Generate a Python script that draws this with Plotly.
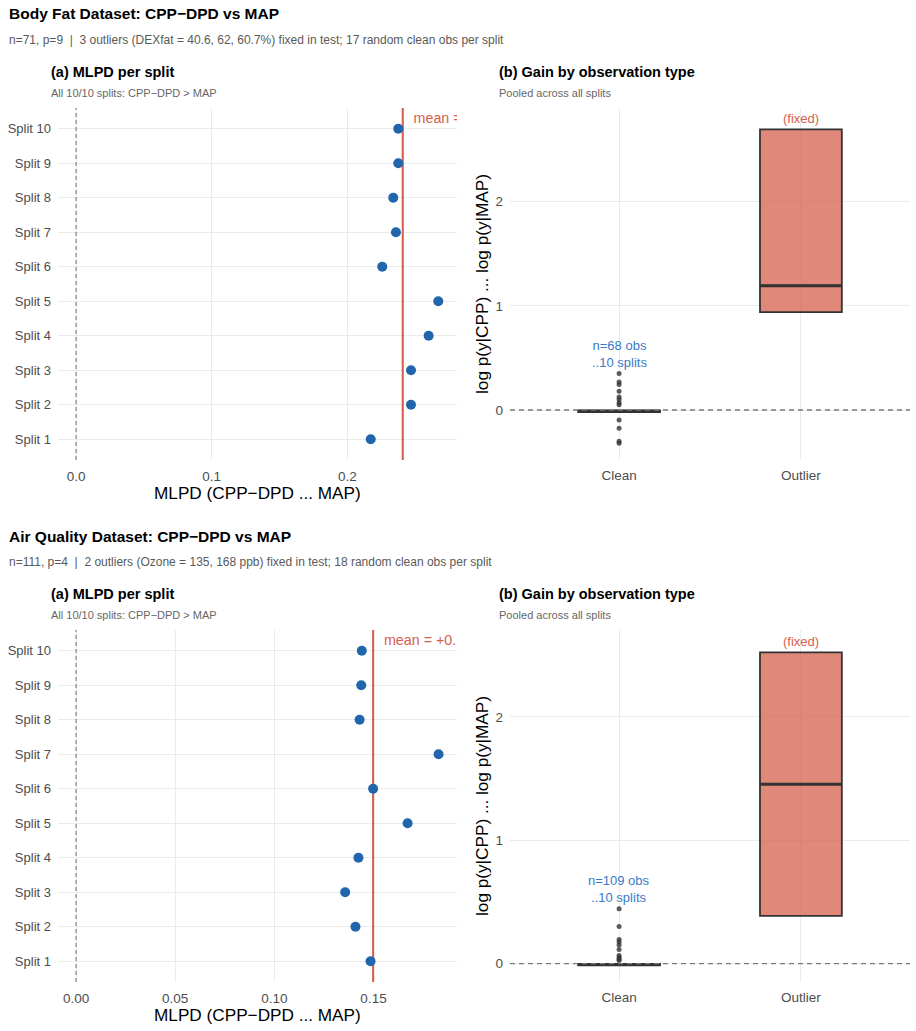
import numpy as np
import plotly.graph_objects as go

# ---------------- data ----------------
splits = ["Split 1", "Split 2", "Split 3", "Split 4", "Split 5",
          "Split 6", "Split 7", "Split 8", "Split 9", "Split 10"]

bf_mlpd = [0.2172, 0.2469, 0.2469, 0.2599, 0.2670, 0.2257, 0.2358, 0.2338, 0.2375, 0.2375]
aq_mlpd = [0.1485, 0.1409, 0.1357, 0.1424, 0.1672, 0.1498, 0.1828, 0.1430, 0.1438, 0.1441]

groups = ["Clean", "Outlier"]

# box statistics [q1, median, q3] per group
bf_clean_box = [-0.020, -0.012, -0.003]
bf_outlier_box = [0.940, 1.193, 2.694]
aq_clean_box = [-0.015, -0.008, -0.002]
aq_outlier_box = [0.386, 1.454, 2.522]

# outlying clean observations (shown as points)
bf_clean_pts = [0.35, 0.27, 0.245, 0.18, 0.125, 0.10, 0.07, 0.05, -0.095, -0.175, -0.30, -0.32]
aq_clean_pts = [0.445, 0.30, 0.195, 0.175, 0.15, 0.115, 0.065, 0.05, 0.035, 0.025]

bf_n_clean = 68
aq_n_clean = 109

titles = ["Body Fat Dataset: CPP\u2212DPD vs MAP", "Air Quality Dataset: CPP\u2212DPD vs MAP"]
subtitles = [
    "n=71, p=9  |  3 outliers (DEXfat = 40.6, 62, 60.7%) fixed in test; 17 random clean obs per split",
    "n=111, p=4  |  2 outliers (Ozone = 135, 168 ppb) fixed in test; 18 random clean obs per split",
]

# ---------------- style ----------------
W, H = 916, 1031
FONT = "Liberation Sans, Arial, Helvetica, sans-serif"
BLUE = "#2166ac"
RED = "#d6604d"
TXTBLUE = "#3a7bc4"
GRID = "#ebebeb"
TICK = "#4d4d4d"
DARK = "#333333"
REFGREY = "#7a7a7a"
SPLIT_RANGE = [-0.6, 9.6]
GROUP_RANGE = [-0.6, 1.6]


def px(x):
    return x / W


def py(y):
    return 1 - y / H


fig = go.Figure()
annotations = []
layout_axes = {}

sections = [
    dict(off=0, mlpd=bf_mlpd, xr=[-0.0133, 0.2808], dtick=0.1, fmt=".1f",
         yr=[-0.480, 2.900], cbox=bf_clean_box, obox=bf_outlier_box, pts=bf_clean_pts, n=bf_n_clean),
    dict(off=522, mlpd=aq_mlpd, xr=[-0.0091, 0.1921], dtick=0.05, fmt=".2f",
         yr=[-0.149, 2.703], cbox=aq_clean_box, obox=aq_outlier_box, pts=aq_clean_pts, n=aq_n_clean),
]

ypos = list(range(len(splits)))
gpos = list(range(len(groups)))

for i, s in enumerate(sections):
    off = s["off"]
    li, ri = 2 * i + 1, 2 * i + 2
    xl = "x" if li == 1 else f"x{li}"
    yl = "y" if li == 1 else f"y{li}"
    xr_, yr_ = f"x{ri}", f"y{ri}"
    top, bot = 108 + off, 460 + off

    # ---- panel (a) ----
    mean_val = float(np.mean(s["mlpd"]))
    # reference line at zero (dashed) and mean line
    fig.add_trace(go.Scatter(
        x=[0, 0], y=SPLIT_RANGE, mode="lines", xaxis=xl, yaxis=yl,
        line=dict(color=REFGREY, width=1.1, dash="4px,3px"), showlegend=False, hoverinfo="skip"))
    fig.add_trace(go.Scatter(
        x=[mean_val, mean_val], y=SPLIT_RANGE, mode="lines", xaxis=xl, yaxis=yl,
        line=dict(color=RED, width=2.1), showlegend=False, hoverinfo="skip"))
    fig.add_trace(go.Scatter(
        x=s["mlpd"], y=ypos, mode="markers", xaxis=xl, yaxis=yl,
        marker=dict(color=BLUE, size=10, line=dict(width=0)), showlegend=False,
        hoverinfo="x+y"))
    fig.add_trace(go.Scatter(
        x=[mean_val], y=[9.27], mode="text", xaxis=xl, yaxis=yl,
        text=[f"  \u2009mean = +{mean_val:.3f}"], textposition="middle right",
        textfont=dict(color=RED, size=14.3, family=FONT), cliponaxis=True,
        showlegend=False, hoverinfo="skip"))

    layout_axes["xaxis" if li == 1 else f"xaxis{li}"] = dict(
        domain=[px(58), px(457)], anchor=yl, range=s["xr"], dtick=s["dtick"], tick0=0,
        tickformat=s["fmt"], showgrid=True, gridcolor=GRID, gridwidth=1, zeroline=False,
        showline=False, ticks="", ticklabelstandoff=6,
        tickfont=dict(size=13.5, color=TICK, family=FONT))
    layout_axes["yaxis" if li == 1 else f"yaxis{li}"] = dict(
        domain=[py(bot), py(top)], anchor=xl, range=SPLIT_RANGE, tickvals=ypos,
        ticktext=splits, showgrid=True, gridcolor=GRID, gridwidth=1, zeroline=False,
        showline=False, ticks="", ticklabelstandoff=6,
        tickfont=dict(size=13, color=TICK, family=FONT))

    # ---- panel (b) ----
    fig.add_trace(go.Scatter(
        x=GROUP_RANGE, y=[0, 0], mode="lines", xaxis=xr_, yaxis=yr_,
        line=dict(color=REFGREY, width=1.3, dash="5px,4px"), showlegend=False, hoverinfo="skip"))
    for gi, b, fill in [(0, s["cbox"], DARK), (1, s["obox"], "rgba(214,96,77,0.75)")]:
        fig.add_trace(go.Box(
            x=[gi], q1=[b[0]], median=[b[1]], q3=[b[2]], lowerfence=[b[0]], upperfence=[b[2]],
            xaxis=xr_, yaxis=yr_, width=0.45, whiskerwidth=0, fillcolor=fill,
            line=dict(color=DARK, width=1.8), boxpoints=False, showlegend=False, hoverinfo="y"))
        # thicker median bar
        fig.add_trace(go.Box(
            x=[gi], q1=[b[1]], median=[b[1]], q3=[b[1]], lowerfence=[b[1]], upperfence=[b[1]],
            xaxis=xr_, yaxis=yr_, width=0.45, whiskerwidth=0, fillcolor="rgba(0,0,0,0)",
            line=dict(color=DARK, width=3), boxpoints=False, showlegend=False, hoverinfo="skip"))
    fig.add_trace(go.Scatter(
        x=[gpos[0]] * len(s["pts"]), y=s["pts"], mode="markers", xaxis=xr_, yaxis=yr_,
        marker=dict(color="rgba(51,51,51,0.8)", size=5, line=dict(width=0)), showlegend=False))

    layout_axes[f"xaxis{ri}"] = dict(
        domain=[px(510), px(910)], anchor=yr_, range=GROUP_RANGE, tickvals=gpos, ticktext=groups,
        showgrid=True, gridcolor=GRID, gridwidth=1,
        zeroline=False, showline=False, ticks="", ticklabelstandoff=5,
        tickfont=dict(size=13.5, color=TICK, family=FONT))
    layout_axes[f"yaxis{ri}"] = dict(
        domain=[py(bot), py(top)], anchor=xr_, range=s["yr"], tickvals=[0, 1, 2],
        showgrid=True, gridcolor=GRID, gridwidth=1, zeroline=False, showline=False, ticks="",
        ticklabelstandoff=6, tickfont=dict(size=13.5, color=TICK, family=FONT))

    annotations.append(dict(xref=xr_, yref=yr_, x=gpos[1], y=s["obox"][2], text="(fixed)",
                            showarrow=False, yanchor="bottom", yshift=1,
                            font=dict(size=13, color=RED, family=FONT)))
    annotations.append(dict(xref=xr_, yref=yr_, x=gpos[0], y=max(s["pts"]),
                            text=f"n={s['n']} obs<br>..10 splits",
                            showarrow=False, yanchor="bottom", yshift=2,
                            font=dict(size=13, color=TXTBLUE, family=FONT)))

    # ---- titles ----
    annotations += [
        dict(xref="paper", yref="paper", x=px(7), y=py(14 + off), xanchor="left", yanchor="middle",
             text=f"<b>{titles[i]}</b>", showarrow=False, font=dict(size=15.5, color="black", family=FONT)),
        dict(xref="paper", yref="paper", x=px(7), y=py(40 + off), xanchor="left", yanchor="middle",
             text=subtitles[i], showarrow=False, font=dict(size=12, color="#595959", family=FONT)),
        dict(xref="paper", yref="paper", x=px(49), y=py(72 + off), xanchor="left", yanchor="middle",
             text="<b>(a) MLPD per split</b>", showarrow=False, font=dict(size=14.5, color="black", family=FONT)),
        dict(xref="paper", yref="paper", x=px(49), y=py(93 + off), xanchor="left", yanchor="middle",
             text="All 10/10 splits: CPP\u2212DPD > MAP", showarrow=False,
             font=dict(size=11, color="#666666", family=FONT)),
        dict(xref="paper", yref="paper", x=px(497), y=py(72 + off), xanchor="left", yanchor="middle",
             text="<b>(b) Gain by observation type</b>", showarrow=False,
             font=dict(size=14.5, color="black", family=FONT)),
        dict(xref="paper", yref="paper", x=px(497), y=py(93 + off), xanchor="left", yanchor="middle",
             text="Pooled across all splits", showarrow=False, font=dict(size=11, color="#666666", family=FONT)),
        dict(xref="paper", yref="paper", x=px(257.5), y=py(493 + off), xanchor="center", yanchor="middle",
             text="MLPD (CPP\u2212DPD ... MAP)", showarrow=False, font=dict(size=17.2, color="black", family=FONT)),
        dict(xref="paper", yref="paper", x=px(482), y=py(284 + off), xanchor="center", yanchor="middle",
             text="log p(y|CPP) ... log p(y|MAP)", textangle=-90, showarrow=False,
             font=dict(size=17.2, color="black", family=FONT)),
    ]

fig.update_layout(
    width=W, height=H, margin=dict(l=0, r=0, t=0, b=0),
    paper_bgcolor="white", plot_bgcolor="white",
    font=dict(family=FONT, color=TICK),
    boxmode="overlay", showlegend=False,
    annotations=annotations,
    **layout_axes,
)

fig.write_html("out.html")
